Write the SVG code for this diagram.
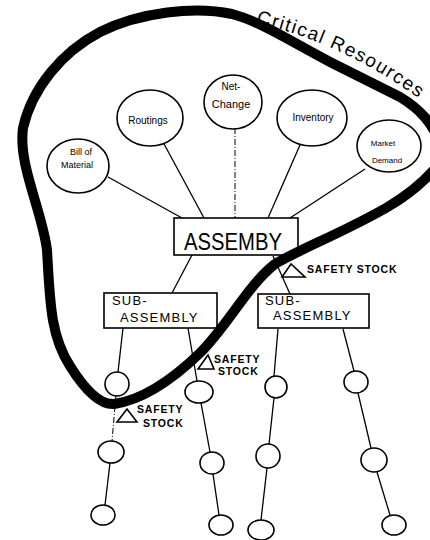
<svg xmlns="http://www.w3.org/2000/svg" width="430" height="540" viewBox="0 0 430 540">
<defs>
<style>
.n{fill:#fff;stroke:#000;stroke-width:1.6}
.c{stroke:#000;stroke-width:1.3;fill:none}
.d{stroke:#000;stroke-width:1;fill:none;stroke-dasharray:6 2 1 2}
.t{font-family:"Liberation Sans",Arial,sans-serif;fill:#000}
.s{font-size:9px}
.b{font-size:13px;letter-spacing:1.2px}
.ss{font-size:10.5px;font-weight:bold;letter-spacing:0.8px}
.tri{fill:#fff;stroke:#000;stroke-width:1.6}
</style>
</defs>
<rect width="430" height="540" fill="#fff"/>
<g id="connectors">
<line class="c" x1="108" y1="177" x2="182" y2="218"/>
<line class="c" x1="163" y1="142" x2="204" y2="218"/>
<line class="d" x1="235" y1="128" x2="235" y2="218"/>
<line class="c" x1="300" y1="145" x2="268" y2="218"/>
<line class="c" x1="365" y1="169" x2="290" y2="218"/>
<line class="c" x1="192" y1="255" x2="172" y2="293"/>
<line class="c" x1="273" y1="256" x2="290" y2="294"/>
<line class="c" x1="123" y1="328" x2="118" y2="372"/>
<line class="c" x1="188" y1="328" x2="197" y2="381"/>
<line class="c" x1="278" y1="329" x2="274" y2="376"/>
<line class="c" x1="343" y1="329" x2="354" y2="371"/>
<line class="d" x1="116" y1="395" x2="112" y2="441"/>
<line class="c" x1="110" y1="463" x2="105" y2="505"/>
<line class="c" x1="201" y1="403" x2="210" y2="452"/>
<line class="c" x1="213" y1="474" x2="219" y2="515"/>
<line class="c" x1="274" y1="398" x2="269" y2="444"/>
<line class="c" x1="267" y1="468" x2="261" y2="520"/>
<line class="c" x1="358" y1="393" x2="371" y2="448"/>
<line class="c" x1="377" y1="472" x2="390" y2="515"/>
</g>
<g id="bill-of-material"><ellipse class="n" cx="78" cy="166" rx="31" ry="27"/><text class="t s" x="81" y="155" text-anchor="middle">Bill of</text><text class="t s" x="77" y="168" text-anchor="middle">Material</text></g>
<g id="routings"><ellipse class="n" cx="150" cy="118" rx="33" ry="28"/><text class="t" font-size="10" x="148" y="124" text-anchor="middle">Routings</text></g>
<g id="net-change"><ellipse class="n" cx="233" cy="102" rx="29" ry="27"/><text class="t" font-size="10" x="231" y="90" text-anchor="middle">Net-</text><text class="t" font-size="11" x="231" y="108" text-anchor="middle">Change</text></g>
<g id="inventory"><ellipse class="n" cx="312" cy="118" rx="35" ry="28"/><text class="t" font-size="10" x="313" y="121" text-anchor="middle">Inventory</text></g>
<g id="market-demand"><ellipse class="n" cx="389" cy="146" rx="32" ry="26"/><text class="t" font-size="8" x="383" y="146" text-anchor="middle">Market</text><text class="t" font-size="8" x="387" y="163" text-anchor="middle">Demand</text></g>
<g id="assemby"><rect class="n" x="174" y="218" width="124" height="37"/><text class="t" font-size="23" x="184" y="250" textLength="98" lengthAdjust="spacingAndGlyphs">ASSEMBY</text></g>
<g id="sub-assembly-left"><rect class="n" x="104" y="293" width="113" height="35"/><text class="t b" x="112" y="305">SUB-</text><text class="t b" x="120" y="322">ASSEMBLY</text></g>
<g id="sub-assembly-right"><rect class="n" x="258" y="294" width="111" height="34"/><text class="t b" x="265" y="305">SUB-</text><text class="t b" x="273" y="320">ASSEMBLY</text></g>
<g id="c1a"><ellipse class="n" cx="117" cy="384" rx="12" ry="12"/></g>
<g id="c1b"><ellipse class="n" cx="111" cy="452" rx="13" ry="11"/></g>
<g id="c1c"><ellipse class="n" cx="103" cy="515" rx="12" ry="10"/></g>
<g id="c2a"><ellipse class="n" cx="199" cy="392" rx="14" ry="11"/></g>
<g id="c2b"><ellipse class="n" cx="212" cy="463" rx="12" ry="11"/></g>
<g id="c2c"><ellipse class="n" cx="221" cy="525" rx="12" ry="10"/></g>
<g id="c3a"><ellipse class="n" cx="276" cy="387" rx="11" ry="11"/></g>
<g id="c3b"><ellipse class="n" cx="268" cy="456" rx="12" ry="12"/></g>
<g id="c3c"><ellipse class="n" cx="261" cy="530" rx="13" ry="10"/></g>
<g id="c4a"><ellipse class="n" cx="356" cy="382" rx="12" ry="11"/></g>
<g id="c4b"><ellipse class="n" cx="374" cy="460" rx="13" ry="12"/></g>
<g id="c4c"><ellipse class="n" cx="394" cy="525" rx="12" ry="10"/></g>
<g id="safety-stock-1"><polygon class="tri" points="291,264 282,277 305,277"/><text class="t ss" x="307" y="273">SAFETY STOCK</text></g>
<g id="safety-stock-2"><polygon class="tri" points="208,355 198,369 214,369"/><text class="t ss" x="214" y="363">SAFETY</text><text class="t ss" x="218" y="375">STOCK</text></g>
<g id="safety-stock-3"><polygon class="tri" points="127,409 117,422 137,422"/><text class="t ss" x="137" y="413">SAFETY</text><text class="t ss" x="143" y="427">STOCK</text></g>
<g id="critical-resources">
<path fill="none" stroke="#000" stroke-width="10" stroke-linecap="round" stroke-linejoin="round" d="M 442,150 C 434,122 418,108 400,97 L 332,63 C 292,42 262,22 232,14 C 195,6 140,12 100,32 C 62,52 32,88 23,128 C 18,165 42,210 47,250 C 50,300 50,335 70,366 C 85,390 100,405 114,404 C 142,400 172,380 200,353 C 228,325 248,285 275,264 C 300,249 340,234 386,208 C 410,194 430,176 442,160"/>
<path id="crp" fill="none" d="M 256,23 Q 342,42 424,102"/>
<text class="t" font-size="19"><textPath href="#crp" textLength="180" lengthAdjust="spacing">Critical Resources</textPath></text>
</g>
</svg>
